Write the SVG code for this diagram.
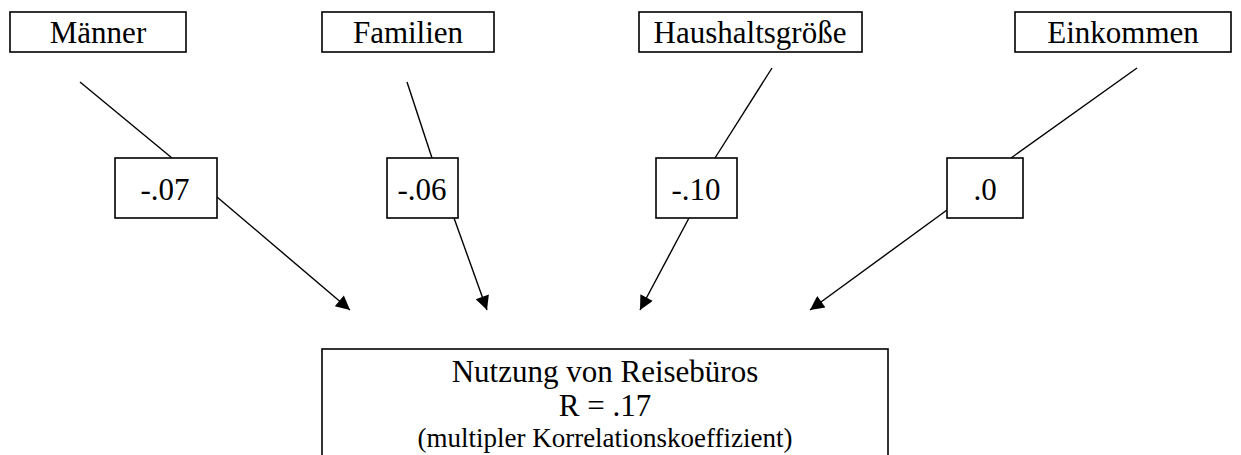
<svg xmlns="http://www.w3.org/2000/svg" width="1241" height="455" viewBox="0 0 1241 455">
<style>
rect{fill:#fff;stroke:#000;stroke-width:1.6}
text{font-family:"Liberation Serif","Times New Roman",serif;fill:#000;text-anchor:middle}
.t{font-size:31px}
.s{font-size:27px}
.c line{stroke:#000;stroke-width:1.4}
</style>
<defs>
<marker id="ah" viewBox="0 0 10 10" refX="10" refY="5" markerWidth="16" markerHeight="14" markerUnits="userSpaceOnUse" orient="auto"><path d="M0,0L10,5L0,10z" fill="#000"/></marker>
</defs>
<g class="c">
<line x1="80" y1="82" x2="172" y2="158"/>
<line x1="217" y1="197" x2="350" y2="310" marker-end="url(#ah)"/>
<line x1="407" y1="82" x2="432" y2="158"/>
<line x1="454" y1="218" x2="487" y2="310" marker-end="url(#ah)"/>
<line x1="772" y1="68" x2="715" y2="158"/>
<line x1="689" y1="218" x2="640" y2="310" marker-end="url(#ah)"/>
<line x1="1137" y1="68" x2="1011" y2="158"/>
<line x1="947" y1="210" x2="810" y2="310" marker-end="url(#ah)"/>
</g>
<g id="maenner"><rect x="10" y="12" width="176" height="40"/><text class="t" x="98" y="43">Männer</text></g>
<g id="familien"><rect x="322" y="12" width="172" height="40"/><text class="t" x="408" y="43">Familien</text></g>
<g id="haushalt"><rect x="639" y="12" width="223" height="40"/><text class="t" x="750" y="43">Haushaltsgröße</text></g>
<g id="einkommen"><rect x="1015" y="12" width="216" height="40"/><text class="t" x="1123" y="43">Einkommen</text></g>
<g id="w1"><rect x="115" y="158" width="102" height="60"/><text class="t" x="165" y="200">-.07</text></g>
<g id="w2"><rect x="387" y="158" width="71" height="60"/><text class="t" x="422" y="200">-.06</text></g>
<g id="w3"><rect x="656" y="158" width="81" height="60"/><text class="t" x="696" y="200">-.10</text></g>
<g id="w4"><rect x="947" y="158" width="76" height="60"/><text class="t" x="985" y="200">.0</text></g>
<g id="ziel"><rect x="322" y="349" width="566" height="110"/>
<text class="t" x="605" y="382">Nutzung von Reisebüros</text>
<text class="t" x="605" y="416">R = .17</text>
<text class="s" x="605" y="447">(multipler Korrelationskoeffizient)</text></g>
</svg>
